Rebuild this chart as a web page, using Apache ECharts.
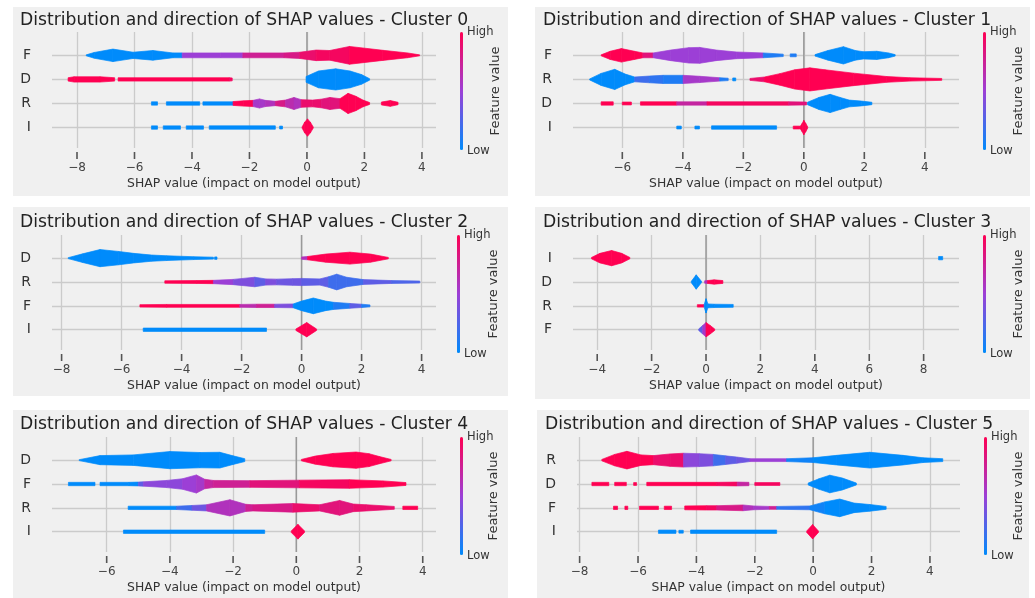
<!DOCTYPE html>
<html><head><meta charset="utf-8">
<script src="https://cdn.jsdelivr.net/npm/echarts@6/dist/echarts.min.js"></script>
<style>html,body{margin:0;padding:0;background:#fff}#c{width:1035px;height:598px}</style>
</head><body><div id="c"></div><script>
// ---------- DATA (knots: [SHAP value, half-width in row units, feature value 0=low..1=high]) ----------
const c0_features = ['F','D','R','I'];
const c0_ticks = [-8,-6,-4,-2,0,2,4];
const c0_F = [[[-7.68,0.02,0],[-7.4,0.12,0],[-6.75,0.26,0],[-6.05,0.13,0],[-5.36,0.2,0],[-4.66,0.1,0],[-4.34,0.1,0.5],[-3.0,0.1,0.5],[-2.23,0.1,0.75],[-0.8,0.1,0.8],[-0.25,0.13,0.9],[0.32,0.22,0.95],[0.79,0.2,0.95],[1.48,0.37,1],[2.64,0.21,1],[3.5,0.1,1],[3.92,0.02,1]]];
const c0_D = [[[-8.31,0.07,1],[-8.1,0.11,1],[-7.2,0.11,1],[-6.69,0.07,1]],[[-6.57,0.07,1],[-2.7,0.07,0.95],[-2.6,0.06,0.95]],[[-0.03,0.12,0],[0.4,0.35,0],[1.0,0.44,0],[1.5,0.35,0],[1.9,0.2,0],[2.18,0.03,0]]];
const c0_R = [[[-5.41,0.07,0],[-5.2,0.07,0]],[[-4.89,0.07,0],[-3.73,0.07,0]],[[-3.62,0.07,0],[-2.57,0.07,0]],[[-2.57,0.08,1],[-2.2,0.11,1],[-1.87,0.13,0.55],[-1.65,0.19,0.55],[-1.45,0.13,0.6],[-1.1,0.09,0.8],[-0.75,0.14,0.65],[-0.45,0.25,0.6],[-0.2,0.16,0.9],[0.2,0.14,0.9],[0.5,0.18,0.85],[0.8,0.25,0.85],[1.15,0.2,1],[1.43,0.42,1],[1.7,0.3,1],[1.95,0.14,1],[2.18,0.04,1]],[[2.59,0.06,1],[2.9,0.12,1],[3.17,0.05,1]]];
const c0_I = [[[-5.41,0.07,0],[-5.2,0.07,0]],[[-5.0,0.07,0],[-4.4,0.07,0]],[[-4.2,0.07,0],[-3.6,0.07,0]],[[-3.4,0.07,0],[-1.1,0.07,0]],[[-0.95,0.06,0],[-0.85,0.06,0]],[[-0.17,0.02,1],[-0.08,0.22,1],[0.02,0.36,1],[0.12,0.22,1],[0.22,0.02,1]]];

const c1_features = ['F','R','D','I'];
const c1_ticks = [-6,-4,-2,0,2,4];
const c1_F = [[[-6.7,0.02,1],[-6.4,0.17,1],[-6.03,0.28,1],[-5.6,0.17,1],[-5.32,0.1,0.85],[-4.98,0.1,0.5],[-4.4,0.22,0.5],[-3.8,0.32,0.5],[-3.44,0.33,0.5],[-2.9,0.22,0.5],[-2.23,0.14,0.5],[-1.34,0.1,0.1],[-0.68,0.05,0.1]],[[-0.45,0.06,0.1],[-0.25,0.06,0.1]],[[0.37,0.03,0],[0.8,0.2,0],[1.31,0.36,0],[1.7,0.2,0],[1.97,0.15,0],[2.41,0.17,0],[2.8,0.1,0],[3.02,0.03,0]]];
const c1_R = [[[-7.08,0.02,0],[-6.7,0.25,0],[-6.25,0.42,0],[-5.9,0.22,0],[-5.59,0.1,0.2],[-5.1,0.14,0.15],[-4.65,0.17,0.1],[-3.99,0.17,0.55],[-3.44,0.13,0.55],[-2.78,0.07,0.1],[-2.5,0.05,0.1]],[[-2.35,0.06,0],[-2.25,0.06,0]],[[-1.78,0.04,0.9],[-1.3,0.1,1],[-0.79,0.24,1],[-0.3,0.4,1],[0.2,0.48,1],[0.7,0.4,1],[1.64,0.26,1],[2.74,0.12,1],[3.5,0.07,1],[4.56,0.04,1]]];
const c1_D = [[[-6.7,0.07,1],[-6.3,0.07,1]],[[-6.0,0.06,1],[-5.7,0.06,1]],[[-5.4,0.07,1],[-4.2,0.07,0.7],[-3.2,0.07,0.95],[-0.5,0.07,0.85],[0.09,0.06,0.85]],[[0.12,0.05,0],[0.5,0.25,0],[0.87,0.38,0],[1.2,0.25,0],[1.5,0.14,0],[1.9,0.1,0],[2.25,0.05,0]]];
const c1_I = [[[-4.2,0.06,0],[-4.05,0.06,0]],[[-3.6,0.06,0],[-3.45,0.06,0]],[[-3.05,0.07,0],[-0.9,0.07,0]],[[-0.35,0.06,1],[-0.13,0.06,1]],[[-0.13,0.03,1],[-0.05,0.18,1],[0.0,0.3,1],[0.06,0.18,1],[0.13,0.02,1]]];

const c2_features = ['D','R','F','I'];
const c2_ticks = [-8,-6,-4,-2,0,2,4];
const c2_D = [[[-7.78,0.02,0],[-7.3,0.18,0],[-6.72,0.36,0],[-6.1,0.28,0],[-5.6,0.2,0],[-5.0,0.13,0],[-4.5,0.1,0],[-3.6,0.06,0],[-2.94,0.04,0]],[[-2.9,0.05,0],[-2.82,0.05,0]],[[0.0,0.05,0.6],[0.2,0.07,1],[0.8,0.17,1],[1.61,0.25,1],[2.3,0.17,1],[2.89,0.03,1]]];
const c2_R = [[[-4.56,0.05,1],[-3.5,0.06,1],[-2.94,0.07,0.5],[-2.28,0.11,0.4],[-1.56,0.2,0.3],[-1.2,0.13,0.4],[-0.83,0.12,0.35],[-0.3,0.14,0.35],[0,0.15,0.3],[0.61,0.13,0.3],[0.9,0.22,0.2],[1.17,0.33,0.2],[1.5,0.2,0.2],[2.06,0.1,0.3],[3.0,0.06,0.25],[3.94,0.04,0.25]]];
const c2_F = [[[-5.39,0.05,1],[-4.5,0.06,1],[-2.06,0.06,0.65],[-1.5,0.07,0.75],[-0.9,0.07,0.4],[-0.28,0.08,0],[0.0,0.2,0],[0.39,0.33,0],[0.8,0.2,0],[1.06,0.15,0.1],[1.61,0.1,0.3],[2.0,0.07,0.1],[2.28,0.04,0]]];
const c2_I = [[[-5.28,0.07,0],[-1.17,0.07,0]],[[-0.19,0.03,1],[0.17,0.3,1],[0.5,0.03,1]]];

const c3_features = ['I','D','R','F'];
const c3_ticks = [-4,-2,0,2,4,6,8];
const c3_I = [[[-4.21,0.03,1],[-3.9,0.2,1],[-3.47,0.32,1],[-3.1,0.2,1],[-2.8,0.03,1]],[[8.55,0.07,0],[8.7,0.07,0]]];
const c3_D = [[[-0.54,0.03,0],[-0.36,0.3,0],[-0.17,0.03,0]],[[-0.05,0.05,0.6],[0.05,0.06,1],[0.3,0.09,1],[0.62,0.06,1]]];
const c3_R = [[[-0.32,0.05,1],[-0.07,0.05,1]],[[-0.07,0.05,0],[0.0,0.3,0],[0.07,0.08,0],[0.3,0.07,0],[1.0,0.06,0]]];
const c3_F = [[[-0.27,0.03,0.3],[-0.12,0.18,0.55],[0.0,0.3,1],[0.15,0.18,1],[0.32,0.03,1]]];

const c4_features = ['D','F','R','I'];
const c4_ticks = [-6,-4,-2,0,2,4];
const c4_D = [[[-6.87,0.02,0],[-6.21,0.19,0],[-5.16,0.22,0],[-4.0,0.36,0],[-3.05,0.32,0],[-2.42,0.33,0],[-2.0,0.18,0],[-1.63,0.06,0]],[[0.16,0.03,1],[0.6,0.17,1],[1.16,0.28,1],[1.89,0.34,1],[2.3,0.27,1],[2.63,0.15,1],[3.0,0.03,1]]];
const c4_F = [[[-7.21,0.07,0],[-6.37,0.07,0]],[[-6.21,0.07,0],[-5.3,0.07,0],[-5.0,0.08,0.3],[-4.84,0.09,0.45],[-4.1,0.15,0.45],[-3.6,0.22,0.5],[-3.16,0.38,0.55],[-2.9,0.2,0.7],[-2.63,0.15,0.75],[-1.47,0.14,0.85],[0.1,0.16,0.95],[1.68,0.18,1],[2.74,0.13,1],[3.47,0.06,1]]];
const c4_R = [[[-5.32,0.07,0],[-3.79,0.07,0.2],[-3.3,0.1,0.35],[-2.84,0.13,0.6],[-2.1,0.34,0.6],[-1.6,0.15,0.75],[-1.37,0.13,0.8],[-0.11,0.18,0.9],[0.74,0.13,0.85],[1.37,0.31,0.85],[1.8,0.16,0.9],[2.21,0.13,0.9],[3.1,0.06,0.9]],[[3.37,0.07,1],[3.84,0.07,1]]];
const c4_I = [[[-5.47,0.07,0],[-1.0,0.07,0]],[[-0.16,0.03,1],[0.05,0.31,1],[0.26,0.03,1]]];

const c5_features = ['R','D','F','I'];
const c5_ticks = [-8,-6,-4,-2,0,2,4];
const c5_R = [[[-7.24,0.03,1],[-6.8,0.24,1],[-6.38,0.37,1],[-5.9,0.22,1],[-5.47,0.19,0.9],[-4.9,0.26,0.9],[-4.44,0.29,0.45],[-3.9,0.27,0.4],[-3.42,0.24,0.2],[-3.0,0.18,0.3],[-2.62,0.13,0.35],[-2.17,0.06,0.5],[-0.91,0.06,0.05],[0.0,0.1,0],[0.8,0.2,0],[1.94,0.33,0],[3.08,0.2,0],[3.76,0.1,0],[4.44,0.06,0]]];
const c5_D = [[[-7.58,0.07,1],[-7.0,0.07,1]],[[-6.8,0.07,1],[-6.4,0.07,1]],[[-6.15,0.06,1],[-6.05,0.06,1]],[[-5.7,0.07,1],[-3.3,0.07,0.95],[-2.6,0.08,0.7],[-2.2,0.07,0.9]],[[-2.0,0.06,0.95],[-1.14,0.06,0.9]],[[-0.17,0.04,0],[0.2,0.22,0],[0.57,0.37,0],[1.0,0.25,0],[1.48,0.04,0]]];
const c5_F = [[[-6.84,0.07,1],[-6.7,0.07,1]],[[-6.45,0.07,1],[-6.35,0.07,1]],[[-5.95,0.07,1],[-5.3,0.07,1]],[[-5.1,0.07,1],[-4.85,0.07,1]],[[-4.4,0.08,1],[-3.65,0.09,0.95],[-3.3,0.09,0.8],[-2.4,0.12,0.6],[-2.05,0.08,0.55],[-1.5,0.06,0.75],[-1.25,0.06,0.15],[-0.11,0.08,0.05],[0.4,0.25,0],[0.91,0.37,0],[1.4,0.2,0],[1.94,0.14,0],[2.5,0.06,0]]];
const c5_I = [[[-5.3,0.07,0],[-4.7,0.07,0]],[[-4.6,0.06,0],[-4.45,0.06,0]],[[-4.2,0.07,0],[-1.25,0.07,0]],[[-0.22,0.03,1],[-0.02,0.3,1],[0.18,0.03,1]]];

const clusterNames = ['Cluster 0','Cluster 1','Cluster 2','Cluster 3','Cluster 4','Cluster 5'];
const clusterFeatures = [c0_features,c1_features,c2_features,c3_features,c4_features,c5_features];
const clusterTicks = [c0_ticks,c1_ticks,c2_ticks,c3_ticks,c4_ticks,c5_ticks];
const clusterRows = [[c0_F,c0_D,c0_R,c0_I],[c1_F,c1_R,c1_D,c1_I],[c2_D,c2_R,c2_F,c2_I],[c3_I,c3_D,c3_R,c3_F],[c4_D,c4_F,c4_R,c4_I],[c5_R,c5_D,c5_F,c5_I]];

// ---------- LAYOUT / STYLE ----------
const layout = [
  {bg:[13,7,495,189], title:[20,21], grid:[52,32,384,116], x:[-8.87,4.49], cb:[461,32], fv:[496,91]},
  {bg:[535,7,495,189], title:[543,21], grid:[573,32,386,116], x:[-7.63,5.13], cb:[984,32], fv:[1019,91]},
  {bg:[13,207,495,189], title:[20,223], grid:[52,235,384,115], x:[-8.32,4.48], cb:[458,235], fv:[494,294]},
  {bg:[535,207,495,192], title:[543,223], grid:[573,235,386,115], x:[-4.89,9.3], cb:[984,235], fv:[1019,294]},
  {bg:[13,410,495,188], title:[20,425], grid:[52,437,384,115], x:[-7.73,4.42], cb:[461,437], fv:[494,496]},
  {bg:[537,410,492,188], title:[545,425], grid:[577,437,383,115], x:[-8.09,5.03], cb:[985,437], fv:[1019,496]}
];
const FONT = 'DejaVu Sans';
const BG = '#f0f0f0';
const BLUE = '#008bfb', PURPLE = '#9c3fd6', RED = '#ff0052';
const YMIN = -0.85, YMAX = 3.97;

function buildSegments(rows) {
  const out = [];
  rows.forEach((pieces, i) => {
    const y = rows.length - 1 - i;
    pieces.forEach(piece => {
      for (let k = 0; k < piece.length - 1; k++) {
        const a = piece[k], b = piece[k + 1];
        out.push([a[0], b[0], y, a[1], b[1], a[2]]);
      }
    });
  });
  return out;
}
function renderViolin(params, api) {
  const x0 = api.value(0), x1 = api.value(1), y = api.value(2), h0 = api.value(3), h1 = api.value(4);
  const pts = [api.coord([x0, y + h0]), api.coord([x1, y + h1]), api.coord([x1, y - h1]), api.coord([x0, y - h0])];
  const col = api.visual('color');
  return {type: 'polygon', shape: {points: pts}, style: {fill: col, stroke: col, lineWidth: 0.7}};
}
const minus = v => (v < 0 ? '\u2212' + (-v) : String(v));

const option = {animation: false, backgroundColor: '#ffffff', title: [], grid: [], xAxis: [], yAxis: [], series: [], visualMap: [], graphic: []};
layout.forEach((L, i) => {
  const feats = clusterFeatures[i];
  option.graphic.push({type: 'rect', z: -100, silent: true, shape: {x: L.bg[0], y: L.bg[1], width: L.bg[2], height: L.bg[3]}, style: {fill: BG}});
  option.title.push({text: 'Distribution and direction of SHAP values - ' + clusterNames[i], left: L.title[0], top: L.title[1] - 9, padding: 0,
    textStyle: {fontFamily: FONT, fontSize: 17.2, fontWeight: 'normal', color: '#222'}});
  option.grid.push({left: L.grid[0], top: L.grid[1], width: L.grid[2], height: L.grid[3]});
  const ticks = clusterTicks[i];
  option.xAxis.push({gridIndex: i, type: 'value', min: L.x[0], max: L.x[1], offset: 4,
    axisLine: {show: false, onZero: false},
    axisTick: {show: false, customValues: ticks},
    axisLabel: {customValues: ticks, formatter: minus, fontFamily: FONT, fontSize: 12, color: '#444', margin: 10},
    splitLine: {show: true, lineStyle: {color: '#cbcbcb', width: 1.3}},
    name: 'SHAP value (impact on model output)', nameLocation: 'middle', nameGap: 26,
    nameTextStyle: {fontFamily: FONT, fontSize: 12.4, color: '#333'}});
  option.yAxis.push({gridIndex: i, type: 'value', min: YMIN, max: YMAX,
    axisLine: {show: false, onZero: false},
    axisTick: {show: false, customValues: [0, 1, 2, 3]},
    axisLabel: {customValues: [0, 1, 2, 3], formatter: v => feats[3 - v], fontFamily: FONT, fontSize: 14, color: '#333', margin: 21},
    splitLine: {show: true, lineStyle: {color: '#cbcbcb', width: 1.3}}});
  option.series.push({type: 'custom', xAxisIndex: i, yAxisIndex: i, renderItem: renderViolin, encode: {x: [0, 1], y: 2},
    data: buildSegments(clusterRows[i]), z: 3, silent: true});
  option.series.push({type: 'line', xAxisIndex: i, yAxisIndex: i, data: [[0, YMIN], [0, YMAX]], symbol: 'none', silent: true, z: 1,
    lineStyle: {color: '#999999', width: 1.5}});
  option.visualMap.push({type: 'continuous', seriesIndex: 2 * i, dimension: 5, min: 0, max: 1, orient: 'vertical',
    inRange: {color: [BLUE, PURPLE, RED]}, left: L.cb[0] - 1, top: L.cb[1], itemWidth: 3, itemHeight: 118,
    calculable: false, hoverLink: false, padding: 0, text: null});
  option.graphic.push({type: 'text', silent: true, x: L.cb[0] + 6, y: L.cb[1], style: {text: 'High', fontFamily: FONT, fontSize: 11.5, fill: '#333', verticalAlign: 'middle'}});
  option.graphic.push({type: 'text', silent: true, x: L.cb[0] + 6, y: L.cb[1] + 119, style: {text: 'Low', fontFamily: FONT, fontSize: 11.5, fill: '#333', verticalAlign: 'middle'}});
  option.graphic.push({type: 'text', silent: true, x: L.fv[0], y: L.fv[1], rotation: Math.PI / 2,
    style: {text: 'Feature value', fontFamily: FONT, fontSize: 13, fill: '#333', align: 'center', verticalAlign: 'middle'}});
});

const chart = echarts.init(document.getElementById('c'), null, {renderer: 'canvas'});
chart.setOption(option);

// outward tick marks: positions come from each axis scale via convertToPixel
const tickMarks = [];
clusterTicks.forEach((ticks, i) => {
  ticks.forEach(v => {
    const p = chart.convertToPixel({gridIndex: i}, [v, YMIN]);
    if (p && isFinite(p[0]) && isFinite(p[1])) {
      tickMarks.push({type: 'rect', z: 100, silent: true,
        shape: {x: p[0] - 0.8, y: p[1] + 4, width: 1.6, height: 7}, style: {fill: '#555'}});
    }
  });
});
chart.setOption({graphic: option.graphic.concat(tickMarks)});
</script></body></html>
